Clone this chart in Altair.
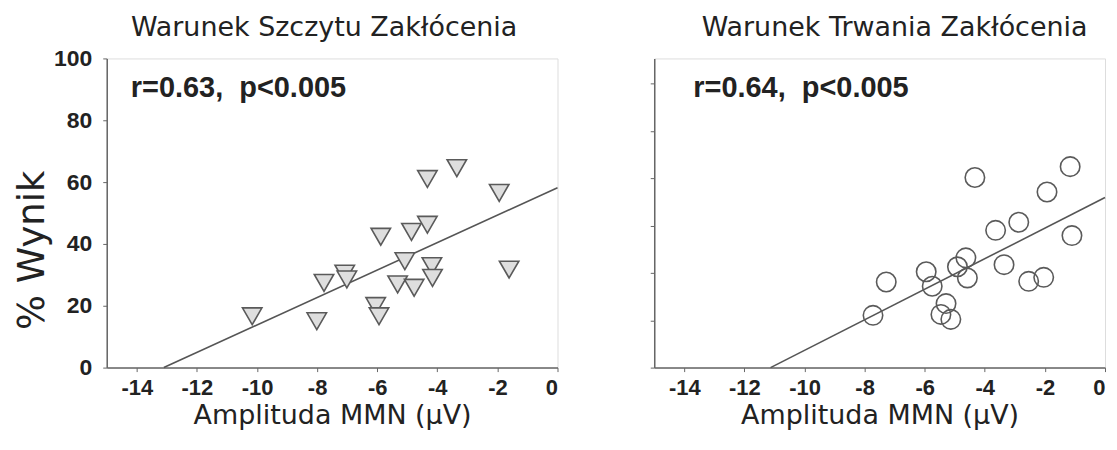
import altair as alt
import pandas as pd

# ---- data ----
peak_x = [-10.16, -8.01, -7.77, -7.08, -7.01, -6.05, -5.94, -5.88, -5.32, -5.08,
          -4.86, -4.77, -4.33, -4.33, -4.18, -4.16, -3.35, -1.94, -1.61]
peak_y = [16.6, 15.0, 27.4, 30.4, 28.5, 19.9, 16.6, 42.3, 26.9, 34.4,
          43.9, 25.8, 46.2, 61.0, 32.8, 29.0, 64.5, 56.5, 31.7]

dur_x = [-7.72, -7.28, -5.95, -5.75, -5.29, -5.46, -5.13, -4.91, -4.63, -4.58,
         -4.33, -3.64, -3.36, -2.87, -2.54, -2.04, -1.93, -1.16, -1.10]
dur_y = [16.9, 27.7, 31.0, 26.3, 20.7, 17.2, 15.6, 32.6, 35.5, 29.0,
         61.5, 44.4, 33.3, 47.0, 27.9, 29.2, 56.8, 65.0, 42.7]

peak_fit_x = [-13.1, 0.0]
peak_fit_y = [0.0, 58.2]
dur_fit_x = [-11.13, 0.0]
dur_fit_y = [0.0, 55.0]

x_ticks = [-14, -12, -10, -8, -6, -4, -2, 0]
y_ticks_left = [0, 20, 40, 60, 80, 100]
y_ticks_right = [0, 15.3, 30.6, 45.9, 61.2, 76.5, 91.8]

titles = ["Warunek Szczytu Zakłócenia", "Warunek Trwania Zakłócenia"]
stats = ["r=0.63,\u00a0 p<0.005", "r=0.64,\u00a0 p<0.005"]
stat_pos_x = [-14.2, -13.7]
stat_pos_y = [87.5, 87.5]
x_title = "Amplituda MMN (µV)"
y_title = "% Wynik"

TXT = "#222222"
AX = "#666666"

W, H = 452, 310


def panel(px, py, fx, fy, shape, fill, title, stat, sx, sy, left, tdx, toff):
    pts = pd.DataFrame({"x": px, "y": py})
    fit = pd.DataFrame({"x": fx, "y": fy})
    ann = pd.DataFrame({"x": [sx], "y": [sy], "t": [stat]})

    xs = alt.Scale(domain=[-15, 0], nice=False, zero=False)
    ys = alt.Scale(domain=[0, 100], nice=False)

    xaxis = alt.Axis(values=x_ticks, title=x_title, grid=False,
                     labelExpr="replace(datum.label, '\u2212', '-')",
                     labelFont="Liberation Sans", labelFontWeight="bold",
                     labelFontSize=22, labelColor=TXT, labelPadding=6,
                     tickSize=4, tickColor=AX, domainColor=AX, domainWidth=1.5,
                     titleFont="DejaVu Sans", titleFontSize=27,
                     titleFontWeight="normal", titleColor=TXT, titlePadding=4)
    if left:
        yaxis = alt.Axis(values=y_ticks_left, title=y_title, grid=False,
                         labelFont="Liberation Sans", labelFontWeight="bold",
                         labelFontSize=23, labelColor=TXT, labelPadding=11,
                         tickSize=4, tickColor=AX, domainColor=AX, domainWidth=1.5,
                         titleFont="DejaVu Sans", titleFontSize=37,
                         titleFontWeight="normal", titleColor=TXT,
                         titleAngle=270, titleX=-63, titleY=192,
                         titleAlign="center", titleBaseline="alphabetic")
    else:
        yaxis = alt.Axis(values=y_ticks_right, title=None, grid=False,
                         labels=False, tickSize=4, tickColor=AX,
                         domainColor=AX, domainWidth=1.5)

    base_x = alt.X("x:Q", scale=xs, axis=xaxis)
    base_y = alt.Y("y:Q", scale=ys, axis=yaxis)

    line = alt.Chart(fit).mark_line(color="#555555", strokeWidth=1.6).encode(
        x=base_x, y=base_y)
    points = alt.Chart(pts).mark_point(
        shape=shape, size=380, filled=False, fill=fill,
        stroke="#5a5a5a", strokeWidth=1.6, opacity=1).encode(
        x=alt.X("x:Q", scale=xs), y=alt.Y("y:Q", scale=ys))
    text = alt.Chart(ann).mark_text(
        font="Liberation Sans", fontWeight="bold", fontSize=29, color=TXT,
        align="left", baseline="alphabetic").encode(
        x=alt.X("x:Q", scale=xs), y=alt.Y("y:Q", scale=ys), text="t:N")

    return alt.layer(line, points, text).properties(
        width=W, height=H,
        title=alt.TitleParams(title, font="DejaVu Sans", fontSize=27,
                              fontWeight="normal", color=TXT, anchor="middle",
                              dx=tdx, offset=toff))


left = panel(peak_x, peak_y, peak_fit_x, peak_fit_y, "triangle-down", "#dedede",
             titles[0], stats[0], stat_pos_x[0], stat_pos_y[0], True, -8, 5)
right = panel(dur_x, dur_y, dur_fit_x, dur_fit_y, "circle", "transparent",
              titles[1], stats[1], stat_pos_x[1], stat_pos_y[1], False, 15, 16)

chart = alt.hconcat(left, right, spacing=88).properties(
    padding={"left": 5, "top": 5, "right": 0, "bottom": 0}
).configure_view(stroke=None).configure(background="white")

chart.save("out.html", embed_options={"renderer": "svg", "actions": False})
